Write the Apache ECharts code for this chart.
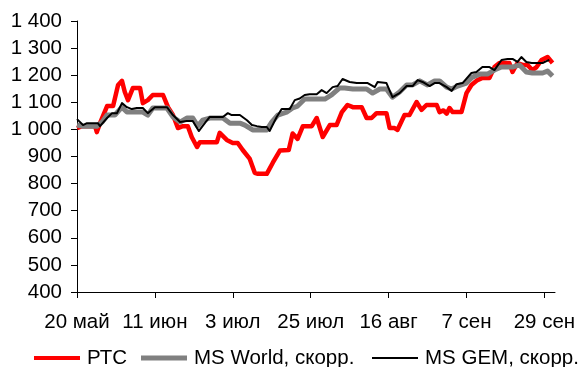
<!DOCTYPE html>
<html>
<head>
<meta charset="utf-8">
<style>
  html, body { margin: 0; padding: 0; background: #fff; }
  #chart { width: 585px; height: 367px; }
</style>
<script src="https://cdn.jsdelivr.net/npm/echarts@6/dist/echarts.min.js"></script>
</head>
<body>
<div id="chart"></div>
<script>
// Day offsets are counted from 20 May; ticks every 22 days.
const tickLabels = ['20 май', '11 июн', '3 июл', '25 июл', '16 авг', '7 сен', '29 сен'];

const rtsDays = [0, 1.4, 5.1, 5.6, 6.5, 8.5, 10.2, 11.6, 12.7, 13.5, 14.4, 15.8, 17.8, 18.6, 20.0, 21.4, 24.3, 25.7, 27.1, 28.5, 29.9, 31.3, 32.4, 33.9, 34.7, 36.1, 39.5, 40.3, 42.3, 44.0, 45.4, 46.8, 48.8, 50.2, 51.1, 53.6, 55.3, 57.3, 59.8, 60.9, 62.3, 63.8, 66.3, 67.7, 69.4, 71.4, 73.3, 74.8, 76.4, 77.9, 80.4, 81.8, 83.2, 84.6, 87.4, 88.3, 89.7, 90.5, 92.5, 93.9, 95.9, 97.3, 98.7, 101.6, 102.4, 103.5, 104.4, 105.2, 106.1, 108.6, 110.0, 111.4, 113.1, 114.5, 116.5, 117.9, 119.3, 122.1, 123.0, 124.4, 125.8, 127.2, 128.6, 129.8, 131.2, 132.9, 134.3];
const rtsValues = [1005, 1012, 1012, 990, 1023, 1086, 1086, 1164, 1179, 1138, 1108, 1153, 1153, 1097, 1108, 1127, 1127, 1082, 1053, 1005, 1012, 1012, 972, 935, 953, 953, 953, 987, 961, 950, 950, 924, 891, 840, 836, 836, 877, 922, 924, 985, 965, 1012, 1012, 1042, 972, 1016, 1016, 1064, 1090, 1082, 1082, 1042, 1042, 1060, 1060, 1005, 1005, 998, 1053, 1053, 1101, 1072, 1090, 1090, 1064, 1070, 1058, 1079, 1064, 1064, 1134, 1164, 1182, 1190, 1190, 1230, 1245, 1245, 1212, 1245, 1238, 1238, 1219, 1230, 1256, 1267, 1245];

const worldDays = [0, 1.4, 5.6, 7.1, 8.5, 10.7, 12.7, 14.1, 18.6, 20.0, 21.4, 25.4, 27.1, 29.1, 31.0, 32.7, 34.1, 35.5, 37.5, 41.2, 43.2, 46.0, 47.4, 49.6, 53.6, 55.0, 56.7, 59.2, 60.9, 62.3, 64.3, 66.6, 70.0, 71.9, 74.2, 75.6, 77.9, 81.8, 83.5, 85.5, 87.4, 89.1, 91.1, 93.1, 94.8, 96.8, 99.0, 101.0, 102.4, 104.4, 105.8, 107.5, 110.0, 111.7, 113.7, 115.9, 117.9, 119.9, 123.0, 125.0, 126.9, 128.6, 131.5, 132.9, 134.3];
const worldValues = [1016, 1012, 1012, 1027, 1053, 1053, 1082, 1064, 1064, 1053, 1079, 1079, 1046, 1027, 1042, 1042, 1012, 1034, 1042, 1042, 1023, 1023, 1016, 998, 998, 1027, 1053, 1064, 1079, 1086, 1112, 1112, 1112, 1127, 1153, 1153, 1149, 1149, 1134, 1149, 1149, 1119, 1138, 1164, 1164, 1179, 1164, 1179, 1179, 1156, 1149, 1160, 1171, 1193, 1204, 1204, 1219, 1230, 1230, 1238, 1212, 1208, 1208, 1215, 1197];

const gemDays = [0, 1.7, 2.8, 5.9, 6.5, 8.5, 9.9, 11.3, 12.7, 14.1, 15.5, 16.9, 18.6, 20.0, 22.0, 25.4, 27.1, 29.1, 31.0, 32.7, 34.4, 36.1, 37.5, 41.2, 42.6, 43.7, 46.0, 48.0, 49.4, 50.8, 52.2, 53.6, 54.4, 56.4, 57.8, 60.1, 61.5, 62.9, 64.3, 65.7, 67.7, 69.1, 70.5, 72.2, 73.6, 75.0, 77.0, 79.0, 82.1, 84.1, 84.9, 87.4, 89.1, 91.1, 93.1, 94.8, 96.2, 97.6, 99.6, 101.0, 102.4, 104.4, 105.8, 107.2, 108.9, 111.4, 112.8, 114.5, 116.5, 117.9, 119.9, 121.6, 123.0, 124.4, 125.5, 126.9, 128.4, 131.5, 132.6, 133.4];
const gemValues = [1038, 1016, 1023, 1023, 1012, 1042, 1060, 1060, 1097, 1082, 1075, 1079, 1079, 1060, 1082, 1082, 1053, 1027, 1031, 1031, 994, 1023, 1046, 1046, 1060, 1053, 1053, 1034, 1016, 1012, 1009, 1009, 994, 1046, 1075, 1075, 1108, 1114, 1127, 1130, 1130, 1145, 1134, 1156, 1160, 1186, 1175, 1171, 1171, 1156, 1175, 1171, 1119, 1134, 1160, 1160, 1182, 1175, 1160, 1171, 1171, 1156, 1142, 1167, 1171, 1208, 1212, 1230, 1230, 1219, 1256, 1260, 1260, 1249, 1267, 1249, 1245, 1245, 1252, 1256];

const seriesNames = ['РТС', 'MS World, скорр.', 'MS GEM, скорр.'];

const pair = (xs, ys) => xs.map((x, i) => [x, ys[i]]);
const FONT = "'Liberation Sans', Arial, sans-serif";
const FS = 20.5;

// One legend per series so each swatch keeps its own line thickness
function legendFor(name, left, thickness) {
  return {
    orient: 'horizontal',
    left: left,
    top: 347.5,
    itemWidth: 46,
    itemHeight: thickness,
    icon: 'rect',
    itemGap: 0,
    padding: 0,
    selectedMode: false,
    textStyle: { fontFamily: FONT, fontSize: FS, color: '#000', padding: [0, 0, 0, 2], verticalAlign: 'middle' },
    data: [name]
  };
}

const chart = echarts.init(document.getElementById('chart'), null, { renderer: 'canvas' });
chart.setOption({
  animation: false,
  backgroundColor: '#fff',
  grid: { left: 77, right: 30, top: 21, bottom: 75, containLabel: false },
  legend: [
    legendFor(seriesNames[0], 34, 4),
    legendFor(seriesNames[1], 141, 5),
    legendFor(seriesNames[2], 372, 2)
  ],
  xAxis: {
    type: 'value',
    min: 0,
    max: 135,
    interval: 22,
    splitLine: { show: false },
    axisLine: { show: true, lineStyle: { color: '#000', width: 1 } },
    axisTick: { show: true, inside: false, length: 6, lineStyle: { color: '#000' } },
    axisLabel: {
      margin: 20,
      showMaxLabel: false,
      fontFamily: FONT, fontSize: FS, color: '#000',
      formatter: v => tickLabels[Math.round(v / 22)] || ''
    }
  },
  yAxis: {
    type: 'value',
    min: 400,
    max: 1400,
    interval: 100,
    splitLine: { show: false },
    axisLine: { show: true, lineStyle: { color: '#000', width: 1 } },
    axisTick: { show: true, inside: false, length: 6, lineStyle: { color: '#000' } },
    axisLabel: {
      margin: 15,
      fontFamily: FONT, fontSize: FS, color: '#000',
      formatter: v => v >= 1000 ? Math.floor(v / 1000) + ' ' + String(v % 1000).padStart(3, '0') : String(v)
    }
  },
  series: [
    {
      name: seriesNames[0], type: 'line', data: pair(rtsDays, rtsValues),
      showSymbol: false, symbol: 'none', z: 2,
      lineStyle: { color: '#ff0000', width: 4.5, join: 'round' },
      itemStyle: { color: '#ff0000' }
    },
    {
      name: seriesNames[1], type: 'line', data: pair(worldDays, worldValues),
      showSymbol: false, symbol: 'none', z: 3,
      lineStyle: { color: '#808080', width: 5, join: 'round' },
      itemStyle: { color: '#808080' }
    },
    {
      name: seriesNames[2], type: 'line', data: pair(gemDays, gemValues),
      showSymbol: false, symbol: 'none', z: 4,
      lineStyle: { color: '#000000', width: 2, join: 'round' },
      itemStyle: { color: '#000000' }
    }
  ]
});
</script>
</body>
</html>
